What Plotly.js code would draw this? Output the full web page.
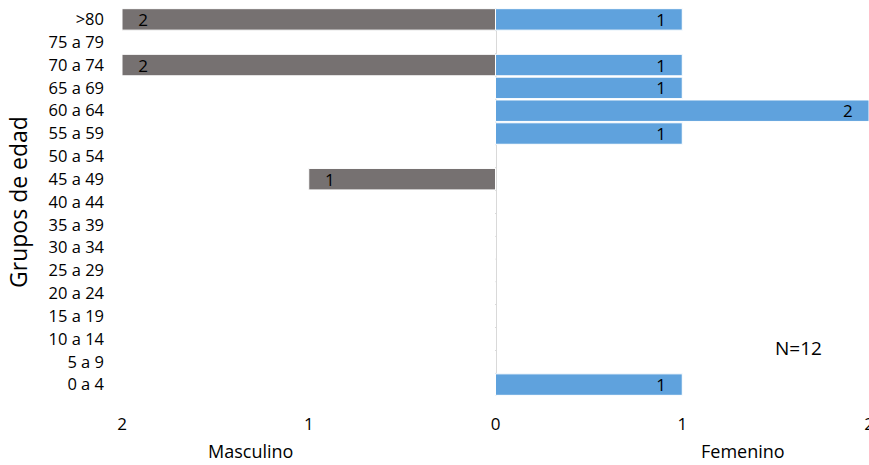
<!DOCTYPE html>
<html><head><meta charset="utf-8">
<script src="https://cdn.plot.ly/plotly-3.0.1.min.js"></script>
<style>html,body{margin:0;padding:0;background:#fff}#c{width:869px;height:465px}</style>
</head><body><div id="c"></div>
<script>
const categories = ["0 a 4","5 a 9","10 a 14","15 a 19","20 a 24","25 a 29","30 a 34","35 a 39","40 a 44","45 a 49","50 a 54","55 a 59","60 a 64","65 a 69","70 a 74","75 a 79",">80"];
const masculino = [0,0,0,0,0,0,0,0,0,1,0,0,0,0,2,0,2];
const femenino  = [1,0,0,0,0,0,0,0,0,0,0,1,2,1,1,0,1];
const xTickVals = [-2,-1,0,1,2];
const xTickText = ["2","1","0","1","2"];
const totalLabel = "N=12";

const F = "Open Sans, Liberation Sans, sans-serif";
const pad = "\u00a0\u00a0\u00a0";
const traces = [
  {type:"bar", orientation:"h", name:"Masculino", y:categories, x:masculino.map(v=>-v),
   text:masculino.map(v => v ? pad + v : ""), textposition:"inside", insidetextanchor:"end", textangle:0,
   textfont:{family:F, size:17, color:"#000"}, constraintext:"none",
   marker:{color:"#767171", line:{color:"#ffffff", width:1}}, hoverinfo:"skip"},
  {type:"bar", orientation:"h", name:"Femenino", y:categories, x:femenino,
   text:femenino.map(v => v ? v + pad : ""), textposition:"inside", insidetextanchor:"end", textangle:0,
   textfont:{family:F, size:17, color:"#000"}, constraintext:"none",
   marker:{color:"#5FA2DD", line:{color:"#ffffff", width:1}}, hoverinfo:"skip"}
];
const layout = {
  width:869, height:465, showlegend:false, barmode:"overlay", bargap:0.06,
  paper_bgcolor:"#fff", plot_bgcolor:"#fff",
  margin:{l:122, r:0, t:7.5, b:68.6},
  font:{family:F, size:17, color:"#000"},
  xaxis:{range:[-2,2], tickvals:xTickVals, ticktext:xTickText, showgrid:false,
         zeroline:true, zerolinecolor:"#d9d9d9", zerolinewidth:2, showline:false,
         ticks:"", ticklabelstandoff:16, ticklabeloverflow:"allow", tickfont:{family:F, size:17}, fixedrange:true},
  yaxis:{type:"category", categoryorder:"array", categoryarray:categories, range:[-0.5,16.5],
         showgrid:false, zeroline:false, showline:false, ticks:"", ticklabelstandoff:17,
         tickfont:{family:F, size:16.5},
         title:{text:"Grupos de edad", font:{family:F, size:23}, standoff:14}},
  annotations:[
    {text:"Masculino", x:250, y:452, showarrow:false, font:{family:F, size:18}},
    {text:"Femenino", x:743, y:452, showarrow:false, font:{family:F, size:18}},
    {text:totalLabel, x:798, y:348, showarrow:false, font:{family:F, size:19}}
  ]
};
const pw = 869-122, ph = 465-7.5-68.6;
layout.annotations.forEach(a=>{ a.xref="paper"; a.yref="paper"; a.x = (a.x-122)/pw; a.y = (465-68.6-a.y)/ph; a.xanchor="center"; a.yanchor="middle"; });
Plotly.newPlot("c", traces, layout, {staticPlot:true});
</script></body></html>
